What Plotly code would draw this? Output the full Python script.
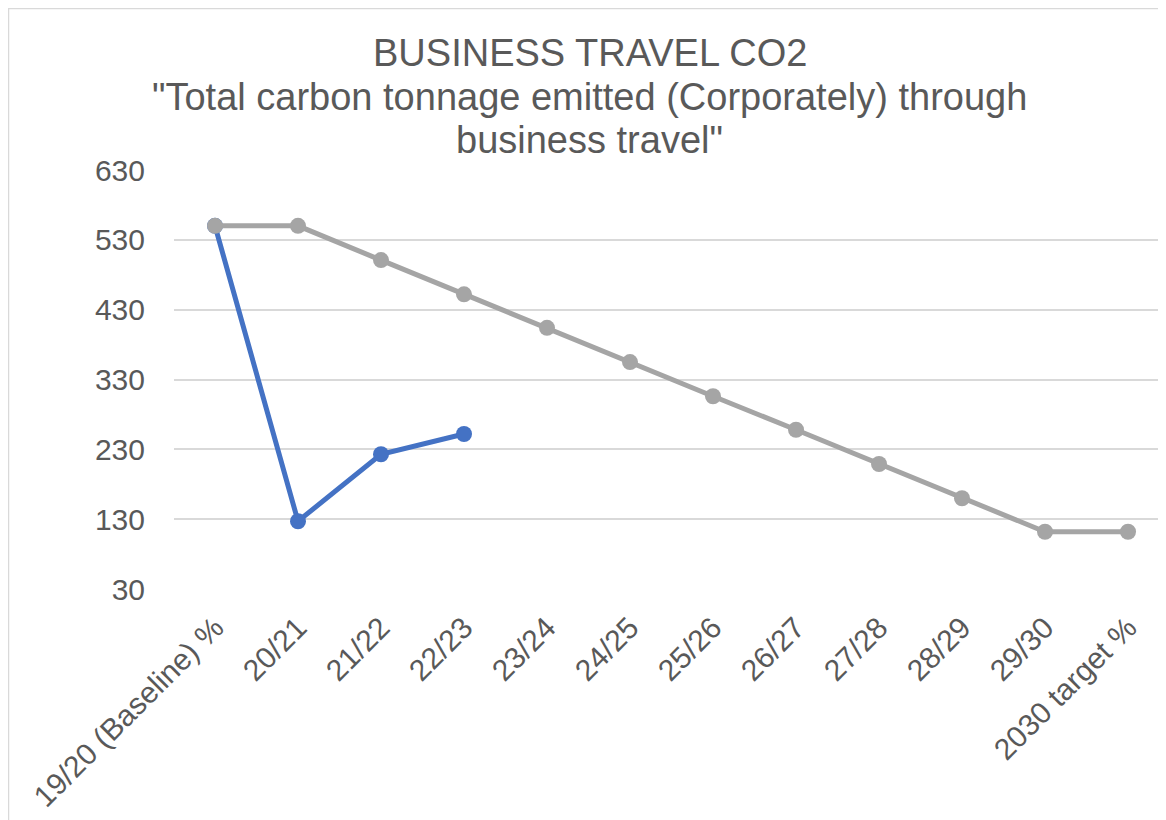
import plotly.graph_objects as go

# ── Data ──────────────────────────────────────────────────────────────────────
years = ["19/20 (Baseline) %", "20/21", "21/22", "22/23", "23/24", "24/25",
         "25/26", "26/27", "27/28", "28/29", "29/30", "2030 target %"]
actual = [550, 127, 223, 252]
target = [550, 550, 501, 452, 404, 355, 306, 258, 209, 160, 112, 112]
title_lines = ["BUSINESS TRAVEL CO2",
               "\"Total carbon tonnage emitted (Corporately) through",
               "business travel\""]

FONT = "Liberation Sans, Arial, sans-serif"
GREY_TXT = "#595959"

# ── Chart ─────────────────────────────────────────────────────────────────────
fig = go.Figure()
fig.add_trace(go.Scatter(
    x=years[:len(actual)], y=actual, mode="lines+markers", name="Actual",
    line=dict(color="#4472C4", width=5), marker=dict(size=16, color="#4472C4"),
))
fig.add_trace(go.Scatter(
    x=years, y=target, mode="lines+markers", name="Target",
    line=dict(color="#A5A5A5", width=5), marker=dict(size=16, color="#A5A5A5"),
))

# title drawn line by line so the line spacing matches the original
for line, ypos in zip(title_lines, [1.2792, 1.1742, 1.0716]):
    fig.add_annotation(
        text=line, xref="paper", yref="paper", x=0.4155, y=ypos,
        xanchor="center", yanchor="middle", showarrow=False,
        font=dict(size=38, color=GREY_TXT, family=FONT),
    )

fig.update_layout(
    width=1166, height=820,
    margin=dict(l=166, r=0, t=162, b=239),
    paper_bgcolor="white", plot_bgcolor="white",
    showlegend=False,
    font=dict(family=FONT, color=GREY_TXT),
    xaxis=dict(
        type="category", categoryorder="array", categoryarray=years,
        range=[-0.494, 11.554], tickangle=-45, showgrid=False, showline=False,
        ticks="", tickfont=dict(size=30, color=GREY_TXT), ticklabelstandoff=14,
    ),
    yaxis=dict(
        range=[30, 630], tickvals=list(range(30, 631, 100)),
        showgrid=True, gridcolor="#D9D9D9", gridwidth=2,
        zeroline=False, showline=False, ticks="",
        tickfont=dict(size=30, color=GREY_TXT), ticklabelstandoff=28,
    ),
    shapes=[dict(
        type="rect", xref="paper", yref="paper",
        x0=-0.1655, x1=1.1, y0=-0.7, y1=1.3854,
        line=dict(color="#D9D9D9", width=1.5), fillcolor="rgba(0,0,0,0)",
        layer="below",
    )],
)

fig.write_html("out.html")
